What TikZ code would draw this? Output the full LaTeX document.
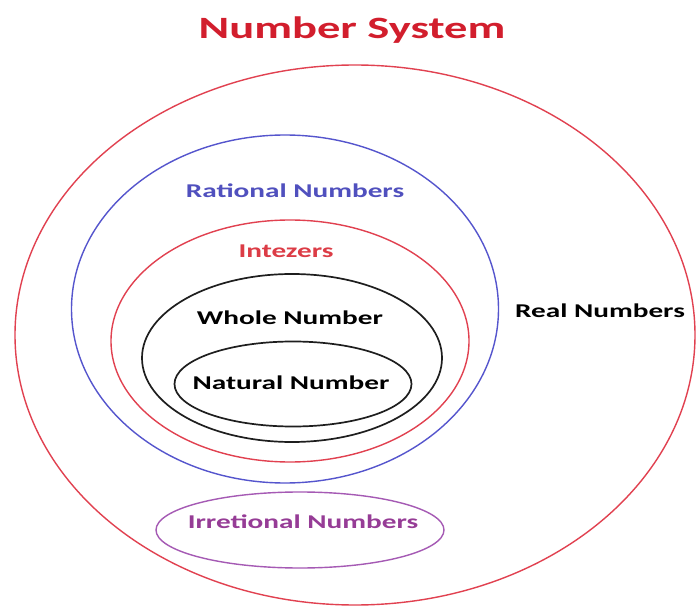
\documentclass[tikz,border=0pt]{standalone}
\usepackage{fontspec}
\usetikzlibrary{shapes.geometric}
\newfontfamily\lblfont[FakeStretch=1.5]{Carlito}
\definecolor{titlered}{RGB}{210,30,45}
\definecolor{ringred}{RGB}{225,65,80}
\definecolor{ringblue}{RGB}{85,85,205}
\definecolor{txtblue}{RGB}{80,80,190}
\definecolor{txtred}{RGB}{220,60,70}
\definecolor{ringpurple}{RGB}{165,90,180}
\definecolor{txtpurple}{RGB}{150,60,150}
\definecolor{ringblack}{RGB}{30,30,30}
\tikzset{
  ring/.style={ellipse, draw, line width=1.4pt, inner sep=0pt, minimum width=#1},
  lbl/.style={font=\lblfont\bfseries\fontsize{19.5}{22}\selectfont, inner sep=0pt}
}
\begin{document}
\begin{tikzpicture}[x=1pt,y=-1pt]
\useasboundingbox (0,0) rectangle (697,607);
\fill[white] (0,0) rectangle (697,607);
\node[font=\lblfont\bfseries\fontsize{31}{34}\selectfont, text=titlered, inner sep=0pt] (title) at (352,30) {Number System};
\node[ring=680pt, minimum height=540pt, draw=ringred] (real) at (355,335) {};
\node[ring=427pt, minimum height=348pt, draw=ringblue] (rational) at (285,309) {};
\node[ring=358pt, minimum height=242pt, draw=ringred] (integers) at (290,341) {};
\node[ring=300pt, minimum height=168pt, draw=ringblack, line width=1.7pt] (whole) at (292,358) {};
\node[ring=237pt, minimum height=85pt, draw=ringblack, line width=1.7pt] (natural) at (293,384) {};
\node[ring=288pt, minimum height=76pt, draw=ringpurple] (irrational) at (300,530) {};
\node[lbl, text=txtblue] (tRational) at (295,191) {Rational Numbers};
\node[lbl, text=txtred] (tIntegers) at (286,251) {Intezers};
\node[lbl, text=black] (tWhole) at (290,318) {Whole Number};
\node[lbl, text=black] (tNatural) at (291,383) {Natural Number};
\node[lbl, text=black] (tReal) at (600,311) {Real Numbers};
\node[lbl, text=txtpurple] (tIrr) at (303,522) {Irretional Numbers};
\end{tikzpicture}
\end{document}
